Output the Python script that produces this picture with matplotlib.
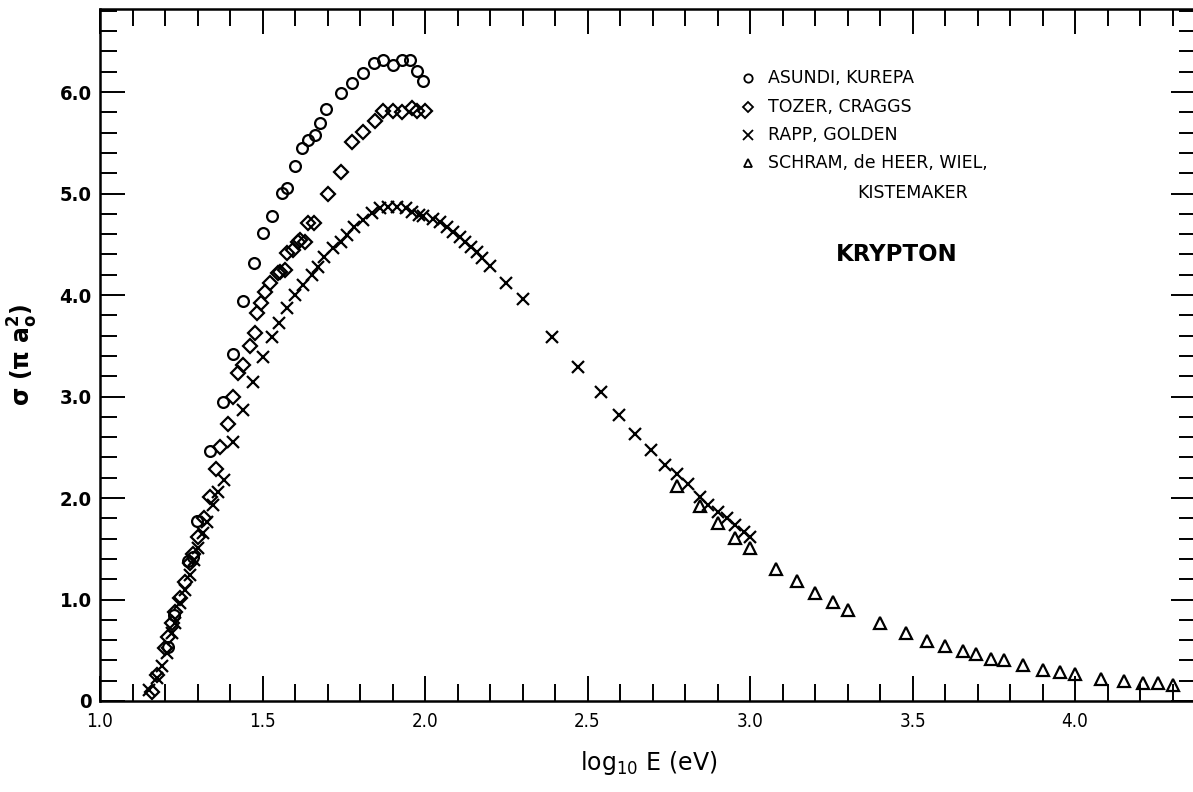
import matplotlib
matplotlib.use("Agg")
import matplotlib.pyplot as plt
from matplotlib.ticker import MultipleLocator, FixedLocator

plt.rcParams['mathtext.fontset'] = 'custom'
plt.rcParams['mathtext.rm'] = 'DejaVu Sans'
plt.rcParams['mathtext.it'] = 'DejaVu Sans'
plt.rcParams['mathtext.bf'] = 'DejaVu Sans:bold'

# Ionization cross sections of krypton, sigma in units of pi*a0^2 vs log10 E (eV)
asundi_x = [1.21, 1.228, 1.27, 1.285, 1.298, 1.338, 1.378, 1.41, 1.44, 1.474, 1.50,
            1.53, 1.56, 1.575, 1.60, 1.62, 1.64, 1.66, 1.677, 1.695, 1.74, 1.775,
            1.81, 1.843, 1.87, 1.90, 1.93, 1.954, 1.975, 1.994]
asundi_y = [0.53, 0.85, 1.38, 1.42, 1.77, 2.46, 2.95, 3.42, 3.94, 4.32, 4.61,
            4.78, 5.01, 5.05, 5.27, 5.45, 5.53, 5.58, 5.69, 5.83, 5.99, 6.09,
            6.19, 6.29, 6.32, 6.27, 6.32, 6.32, 6.21, 6.11]

tozer_x = [1.16, 1.175, 1.20, 1.21, 1.22, 1.23, 1.246, 1.26, 1.277, 1.285, 1.302,
           1.32, 1.338, 1.357, 1.37, 1.395, 1.41, 1.425, 1.44, 1.46, 1.477, 1.483,
           1.495, 1.508, 1.523, 1.548, 1.554, 1.57, 1.575, 1.594, 1.61, 1.615,
           1.63, 1.64, 1.658, 1.70, 1.74, 1.776, 1.81, 1.846, 1.87, 1.90, 1.93,
           1.96, 1.976, 2.00]
tozer_y = [0.09, 0.26, 0.52, 0.63, 0.77, 0.88, 1.01, 1.17, 1.36, 1.45, 1.62,
           1.80, 2.01, 2.29, 2.50, 2.73, 3.00, 3.23, 3.31, 3.50, 3.63, 3.82,
           3.92, 4.03, 4.12, 4.22, 4.23, 4.25, 4.41, 4.44, 4.52, 4.54,
           4.52, 4.71, 4.71, 5.00, 5.21, 5.51, 5.61, 5.71, 5.81, 5.81, 5.80,
           5.84, 5.81, 5.81]

rapp_x = [1.15, 1.175, 1.19, 1.205, 1.22, 1.23, 1.246, 1.26, 1.277, 1.29, 1.30,
          1.318, 1.33, 1.348, 1.363, 1.38, 1.41, 1.44, 1.47, 1.50, 1.528, 1.55,
          1.575, 1.60, 1.625, 1.652, 1.67, 1.69, 1.717, 1.74, 1.76, 1.78, 1.81,
          1.836, 1.86, 1.887, 1.913, 1.94, 1.96, 1.98, 1.995, 2.025, 2.046,
          2.067, 2.087, 2.108, 2.123, 2.14, 2.16, 2.175, 2.20, 2.25, 2.30, 2.39,
          2.47, 2.54, 2.597, 2.646, 2.695, 2.738, 2.775, 2.81, 2.845, 2.87, 2.90,
          2.93, 2.954, 2.98, 3.00]
rapp_y = [0.11, 0.23, 0.34, 0.47, 0.67, 0.77, 0.97, 1.09, 1.24, 1.39, 1.51,
          1.66, 1.76, 1.93, 2.06, 2.18, 2.55, 2.87, 3.14, 3.39, 3.59, 3.72,
          3.87, 4.00, 4.10, 4.20, 4.28, 4.37, 4.46, 4.52, 4.59, 4.67, 4.74,
          4.81, 4.86, 4.87, 4.87, 4.86, 4.82, 4.79, 4.78, 4.75, 4.72,
          4.67, 4.62, 4.57, 4.52, 4.47, 4.42, 4.36, 4.29, 4.12, 3.96, 3.59,
          3.29, 3.04, 2.82, 2.63, 2.47, 2.33, 2.24, 2.14, 2.01, 1.93, 1.86,
          1.80, 1.73, 1.67, 1.62]

schram_x = [2.776, 2.845, 2.90, 2.954, 3.0, 3.08, 3.145, 3.20, 3.255, 3.30, 3.40,
            3.48, 3.545, 3.60, 3.655, 3.695, 3.74, 3.78, 3.84, 3.90, 3.955, 4.0,
            4.08, 4.15, 4.21, 4.255, 4.30]
schram_y = [2.12, 1.92, 1.75, 1.61, 1.51, 1.30, 1.18, 1.06, 0.98, 0.90, 0.77,
            0.67, 0.59, 0.54, 0.49, 0.46, 0.41, 0.40, 0.35, 0.31, 0.29, 0.27,
            0.22, 0.20, 0.18, 0.18, 0.16]

legend_labels = ["ASUNDI, KUREPA", "TOZER, CRAGGS", "RAPP, GOLDEN",
                 "SCHRAM, de HEER, WIEL,", "KISTEMAKER"]
x_tick_values = [1.0, 1.5, 2.0, 2.5, 3.0, 3.5, 4.0]
x_tick_labels = ["1.0", "1.5", "2.0", "2.5", "3.0", "3.5", "4.0"]
y_tick_values = [0, 1, 2, 3, 4, 5, 6]
y_tick_labels = ["0", "1.0", "2.0", "3.0", "4.0", "5.0", "6.0"]

fig = plt.figure(figsize=(11.93, 7.92), dpi=100)
ax = fig.add_axes([100 / 1193, 91 / 792, 1096 / 1193, 692 / 792])

mk = dict(linestyle='none', color='black', markerfacecolor='none', markeredgewidth=1.6)
ax.plot(asundi_x, asundi_y, marker='o', markersize=7.8, **mk)
ax.plot(tozer_x, tozer_y, marker='D', markersize=6.8, **mk)
ax.plot(rapp_x, rapp_y, marker='x', markersize=8.5, **mk)
ax.plot(schram_x, schram_y, marker='^', markersize=8.0, **mk)

ax.set_xlim(1.0, 4.372)
ax.set_ylim(0, 6.818)

ax.xaxis.set_major_locator(FixedLocator(x_tick_values))
ax.xaxis.set_minor_locator(MultipleLocator(0.1))
ax.yaxis.set_major_locator(FixedLocator(y_tick_values))
ax.yaxis.set_minor_locator(MultipleLocator(0.2))
ax.set_xticklabels(x_tick_labels, fontsize=13.5, fontstretch='condensed')
ax.set_yticklabels(y_tick_labels, fontsize=14.5, fontweight='bold', fontstretch='condensed')

ax.tick_params(which='both', direction='in', top=True, right=True, width=1.4, color='black')
ax.tick_params(which='major', length=18)
ax.tick_params(which='minor', length=12)
ax.tick_params(axis='x', which='major', pad=8)
ax.tick_params(axis='y', which='major', pad=6)

for sp in ax.spines.values():
    sp.set_linewidth(1.8)

fig.text(649 / 1193, 1 - 770 / 792, r'$\mathrm{log}_{\mathrm{10}}\ \mathrm{E}\ \mathrm{(eV)}$',
         ha='center', va='baseline', fontsize=17)
fig.text(23 / 1193, 1 - 355 / 792, r'$\mathbf{\sigma\ (\pi\ a_{o}^{2})}$',
         ha='center', va='center', rotation=90, fontsize=17)

# key to the data sets, drawn inside the plotting area
leg_mk = dict(linestyle='none', color='black', markerfacecolor='none',
              markeredgewidth=1.3, transform=ax.transAxes, clip_on=False)
rows = [0.900, 0.858, 0.818, 0.777]
markers = [('o', 6.0), ('D', 5.5), ('x', 6.5), ('^', 6.0)]
for yy, (m, s), lab in zip(rows, markers, legend_labels[:4]):
    ax.plot([0.591], [yy], marker=m, markersize=s, **leg_mk)
    ax.text(0.6095, yy, lab, transform=ax.transAxes, ha='left', va='center', fontsize=12.5)
ax.text(0.741, 0.734, legend_labels[4], transform=ax.transAxes, ha='center', va='center',
        fontsize=12.5)
ax.text(0.727, 0.645, "KRYPTON", transform=ax.transAxes, ha='center', va='center',
        fontsize=16.5, fontweight='bold')

fig.savefig("out.png", dpi=100, facecolor='white')
